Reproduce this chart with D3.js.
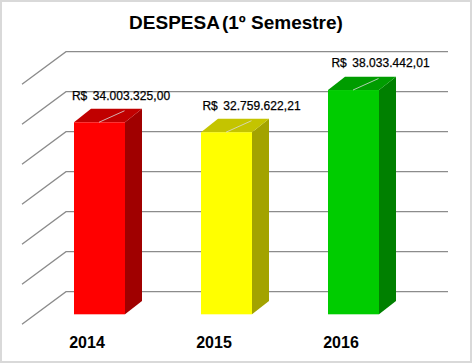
<!DOCTYPE html>
<html>
<head>
<meta charset="utf-8">
<script src="https://cdn.jsdelivr.net/npm/d3@7"></script>
<style>
html,body{margin:0;padding:0;background:#fff}
svg{display:block}
text{font-family:"Liberation Sans",Arial,sans-serif;fill:#000}
</style>
</head>
<body>
<svg id="c" width="472" height="363"></svg>
<script>
const titleText = "DESPESA";
const titleRest = "(1º Semestre)";
const years = ["2014", "2015", "2016"];
const values = [34003325.00, 32759622.21, 38033442.01];
const valueLabels = ["R$ 34.003.325,00", "R$ 32.759.622,21", "R$ 38.033.442,01"];
const frontColors = ["#ff0000", "#ffff00", "#00cc00"];
const topColors = ["#c00000", "#c4c400", "#009c00"];
const sideColors = ["#a00000", "#a3a300", "#008000"];
const gridTicks = [10000000, 15000000, 20000000, 25000000, 30000000, 35000000, 40000000];

const svg = d3.select("#c");
const y = d3.scaleLinear().domain([10000000, 40000000]).range([314.3, 74.3]);
const x = d3.scaleBand().domain(years).range([36, 417]).paddingInner(76 / 127).paddingOuter(38 / 127);

const barDx = 17, barDy = 13.4;
const gridFrontX = 22, gridBackX = 66, gridRight = 448, gridFrontOffset = 10, gridBackOffset = -22.6;
const labelDx = [21.5, 25, 27], labelDy = [22.3, 22.3, 23.3];

svg.append("rect").attr("x", 1).attr("y", 1).attr("width", 470).attr("height", 361)
  .attr("fill", "#fff").attr("stroke", "#d9d9d9").attr("stroke-width", 2);

const grid = svg.append("g").attr("stroke", "#8c8c8c").attr("stroke-width", 1.3).attr("fill", "none");
grid.selectAll("path").data(gridTicks).join("path")
  .attr("d", d => `M${gridFrontX},${y(d) + gridFrontOffset}L${gridBackX},${y(d) + gridBackOffset}L${gridRight},${y(d) + gridBackOffset}`);

const bars = svg.append("g").selectAll("g").data(years).join("g");
const x0 = d => x(d), x1 = d => x(d) + x.bandwidth();
const barTop = (d, i) => y(values[i]);
const base = y.range()[0];

bars.append("path").attr("fill", (d, i) => sideColors[i])
  .attr("d", (d, i) => `M${x1(d)},${barTop(d, i)}L${x1(d) + barDx},${barTop(d, i) - barDy}L${x1(d) + barDx},${base - barDy}L${x1(d)},${base}Z`);
bars.append("path").attr("fill", (d, i) => topColors[i])
  .attr("d", (d, i) => `M${x0(d)},${barTop(d, i)}L${x0(d) + barDx},${barTop(d, i) - barDy}L${x1(d) + barDx},${barTop(d, i) - barDy}L${x1(d)},${barTop(d, i)}Z`);
bars.append("rect").attr("fill", (d, i) => frontColors[i])
  .attr("x", x0).attr("y", barTop).attr("width", x.bandwidth()).attr("height", (d, i) => base - barTop(d, i));
bars.append("line").attr("stroke", "#d9d9d9").attr("stroke-width", 1).attr("stroke-opacity", 0.8)
  .attr("x1", d => x0(d) + x.bandwidth() / 2 - 0.5).attr("y1", barTop)
  .attr("x2", d => x0(d) + x.bandwidth() / 2 + 25).attr("y2", (d, i) => barTop(d, i) - 11.5);

svg.append("g").selectAll("text").data(valueLabels).join("text")
  .attr("x", (d, i) => x0(years[i]) + x.bandwidth() / 2 + labelDx[i])
  .attr("y", (d, i) => barTop(years[i], i) - labelDy[i])
  .attr("text-anchor", "middle").attr("font-size", 12).attr("word-spacing", 2).attr("letter-spacing", 0.05)
  .attr("stroke", "#000").attr("stroke-width", 0.25)
  .text(d => d);

svg.append("g").selectAll("text").data(years).join("text")
  .attr("x", d => x0(d) + x.bandwidth() / 2 - 12.5).attr("y", 347.5)
  .attr("text-anchor", "middle").attr("font-size", 16).attr("font-weight", "bold")
  .text(d => d);

const titleEl = svg.append("text").attr("x", 236).attr("y", 28.5).attr("text-anchor", "middle")
  .attr("font-size", 19).attr("font-weight", "bold");
titleEl.append("tspan").text(titleText);
titleEl.append("tspan").attr("dx", 2).text(titleRest);
</script>
</body>
</html>
